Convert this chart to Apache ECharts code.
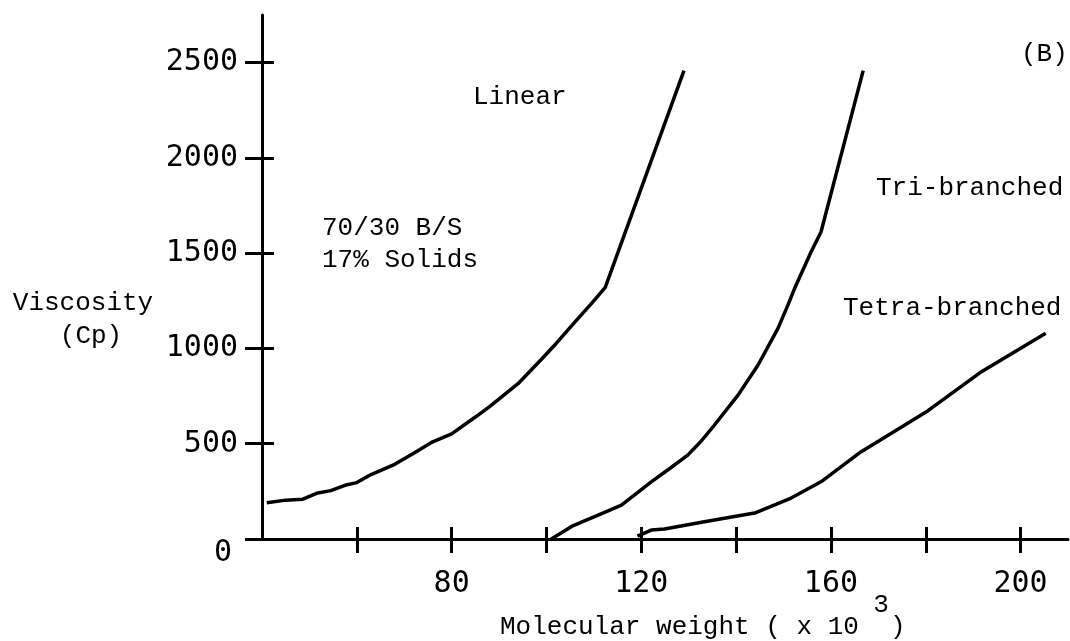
<!DOCTYPE html>
<html>
<head>
<meta charset="utf-8">
<script src="https://cdn.jsdelivr.net/npm/echarts@6/dist/echarts.min.js"></script>
<style>
  html, body { margin: 0; padding: 0; background: #fff; }
  #main { width: 1070px; height: 641px; }
</style>
</head>
<body>
<div id="main"></div>
<script>
// values: [molecular weight (x10^3), viscosity (Cp)]
const linear = [
  [41, 190], [45, 204], [48.5, 208], [51.5, 240], [54.5, 254], [57.5, 282],
  [60, 296], [63, 338], [68, 392], [72, 450], [76, 510], [80, 552],
  [85, 640], [88, 695], [94, 815], [99, 945], [102, 1025], [105.7, 1130],
  [109.7, 1242], [112.4, 1321], [129, 2458]
]
const triBranched = [
  [101, 0], [103, 30], [105.3, 66], [108, 95], [110.4, 120], [113, 148],
  [115.8, 178], [119, 240], [122.1, 300], [126, 370], [129.8, 440], [132.5, 510],
  [135.4, 597], [140.4, 755], [144.6, 912], [148.8, 1104], [150.9, 1226], [152.3, 1313],
  [155.8, 1506], [157.9, 1611], [166.8, 2458]
]
const tetraBranched = [
  [119.2, 15], [122.1, 47], [124.9, 52], [133.3, 91], [143.9, 136], [151.6, 215],
  [157.9, 300], [166.3, 457], [180.4, 672], [191.4, 872], [205.3, 1080]
]
const yTicks = [0, 500, 1000, 1500, 2000, 2500]
const xTicks = [60, 80, 100, 120, 140, 160, 180, 200]
const xLabels = [80, 120, 160, 200]

const mono = '"Liberation Mono", "DejaVu Sans Mono", monospace'
const numFont = '"DejaVu Sans Mono", monospace'

const chart = echarts.init(document.getElementById('main'))

function note(text, x, y, align) {
  return {
    type: 'text',
    x: x,
    y: y,
    style: {
      text: text,
      font: '26px ' + mono,
      fill: '#000',
      textAlign: align || 'left',
      textVerticalAlign: 'middle'
    }
  }
}

const lineStyle = { color: '#000', width: 3.5 }

const option = {
  animation: false,
  backgroundColor: '#fff',
  grid: { left: 262, right: 2, top: 15, bottom: 102, outerBoundsMode: 'none' },
  xAxis: [
    {
      type: 'value', min: 40, max: 210,
      splitLine: { show: false },
      axisLine: { lineStyle: { color: '#000', width: 3 } },
      axisTick: { customValues: xTicks, length: 14, lineStyle: { color: '#000', width: 3 } },
      axisLabel: {
        customValues: xLabels, margin: 30,
        fontFamily: numFont, fontSize: 30, color: '#000'
      }
    },
    {
      type: 'value', min: 40, max: 210, position: 'bottom',
      splitLine: { show: false },
      axisLine: { show: false },
      axisTick: { inside: true, customValues: xTicks, length: 12, lineStyle: { color: '#000', width: 3 } },
      axisLabel: { show: false }
    }
  ],
  yAxis: [
    {
      type: 'value', min: 0, max: 2750,
      splitLine: { show: false },
      axisLine: { lineStyle: { color: '#000', width: 3 } },
      axisTick: { customValues: yTicks, length: 17, lineStyle: { color: '#000', width: 3 } },
      axisLabel: {
        customValues: yTicks, margin: 24,
        fontFamily: numFont, fontSize: 30, color: '#000',
        formatter: v => v === 0 ? '{z|0}' : String(v),
        rich: { z: { fontFamily: numFont, fontSize: 30, color: '#000', padding: [28, 6, 0, 0] } }
      }
    },
    {
      type: 'value', min: 0, max: 2750, position: 'left',
      splitLine: { show: false },
      axisLine: { show: false },
      axisTick: { inside: true, customValues: yTicks, length: 12, lineStyle: { color: '#000', width: 3 } },
      axisLabel: { show: false }
    }
  ],
  graphic: [
    note('(B)', 1021, 54),
    note('Linear', 473, 97),
    note('Tri-branched', 876, 188),
    note('Tetra-branched', 843, 308),
    note('70/30 B/S', 322, 228),
    note('17% Solids', 322, 260),
    note('Viscosity', 83, 303, 'center'),
    note('(Cp)', 91, 336, 'center'),
    note('Molecular weight ( x 10  )', 500, 627),
    note('3', 881, 605, 'center')
  ],
  series: [
    { name: 'Linear', type: 'line', data: linear, showSymbol: false, lineStyle: lineStyle },
    { name: 'Tri-branched', type: 'line', data: triBranched, showSymbol: false, lineStyle: lineStyle },
    { name: 'Tetra-branched', type: 'line', data: tetraBranched, showSymbol: false, lineStyle: lineStyle }
  ]
}

chart.setOption(option)
</script>
</body>
</html>
